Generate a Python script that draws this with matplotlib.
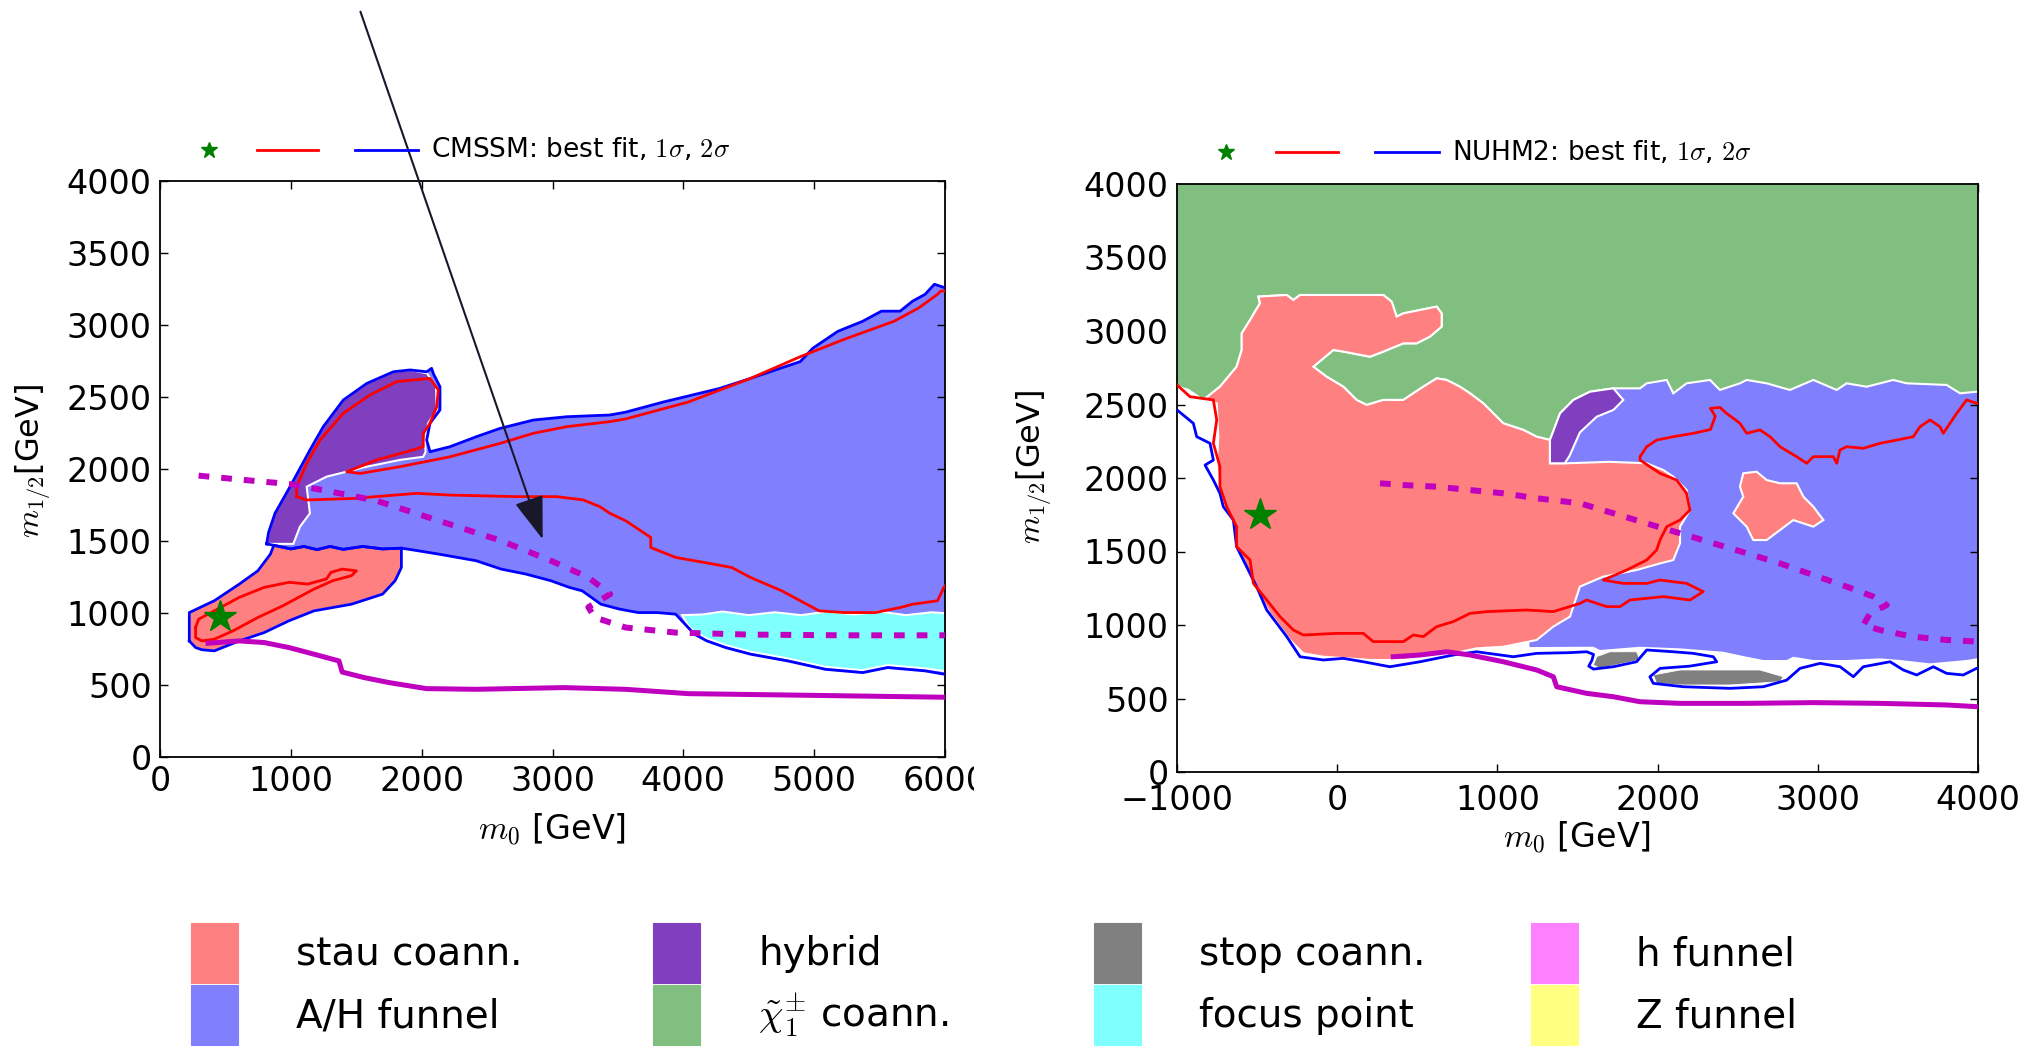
import matplotlib
matplotlib.use("Agg")
import matplotlib.pyplot as plt
from matplotlib.lines import Line2D
from matplotlib.patches import Patch
from matplotlib.transforms import Bbox, TransformedBbox

plt.rcParams['mathtext.fontset'] = 'cm'
plt.rcParams['font.family'] = 'DejaVu Sans'

# ---------------- CMSSM (left) : (m0, m12) in GeV ----------------
cm_band_2s = [(815, 1480), (830, 1560), (879, 1692), (994, 1877), (1146, 2132), (1248, 2294),
              (1401, 2479), (1580, 2594), (1783, 2675), (1911, 2688), (2038, 2675), (2076, 2699),
              (2089, 2663), (2140, 2571), (2140, 2410), (2064, 2318), (2038, 2201), (2064, 2120),
              (2217, 2155), (2420, 2225), (2599, 2282), (2854, 2340), (3109, 2363), (3439, 2375),
              (3560, 2395), (3846, 2465), (4275, 2559), (4513, 2629), (4894, 2746), (4990, 2839),
              (5181, 2956), (5371, 3026), (5514, 3096), (5657, 3096), (5753, 3166), (5848, 3213),
              (5919, 3283), (5995, 3260), (6050, 3260), (6050, 575), (5995, 575), (5848, 598),
              (5562, 621), (5371, 586), (5085, 609), (4799, 667), (4513, 714), (4323, 760),
              (4180, 806), (4085, 853), (4037, 899), (3941, 992), (3798, 1003), (3655, 1003),
              (3513, 1027), (3370, 1061), (3227, 1154), (3131, 1177), (2988, 1224), (2798, 1270),
              (2607, 1305), (2416, 1363), (2130, 1409), (1892, 1444), (1845, 1450), (1700, 1445),
              (1550, 1462), (1400, 1442), (1300, 1462), (1200, 1440), (1100, 1462), (1000, 1445),
              (870, 1470)]
cm_stau_2s = [(224, 806), (224, 1003), (415, 1085), (605, 1200), (748, 1293), (844, 1409),
              (870, 1470), (1000, 1445), (1100, 1462), (1200, 1440), (1300, 1462), (1400, 1442),
              (1550, 1462), (1700, 1445), (1845, 1450), (1845, 1316), (1797, 1224), (1701, 1131),
              (1463, 1061), (1177, 1015), (986, 946), (796, 864), (605, 806), (415, 737),
              (320, 745), (272, 760)]
cm_hybrid = [(815, 1480), (830, 1560), (879, 1692), (994, 1877), (1146, 2132), (1248, 2294),
             (1401, 2479), (1580, 2594), (1783, 2675), (1911, 2688), (2040, 2665), (2110, 2571),
             (2115, 2410), (2050, 2318), (2025, 2201), (2030, 2120), (2012, 2085), (1834, 2063),
             (1580, 2016), (1274, 1947), (1121, 1877), (1146, 1692), (1070, 1600), (1019, 1480)]
cm_focus = [(3990, 985), (4150, 990), (4300, 1010), (4500, 985), (4700, 1005), (4900, 985),
            (5100, 1010), (5300, 990), (5500, 1010), (5700, 985), (5900, 1005), (6050, 995),
            (6050, 590), (5848, 615), (5562, 638), (5371, 603), (5085, 626), (4799, 684),
            (4513, 731), (4323, 777), (4180, 823), (4085, 870), (4037, 916)]
cm_sig1_main = [(1045, 1808), (1121, 1785), (1468, 1795), (1962, 1831), (2217, 1819), (2726, 1808),
                (3032, 1808), (3236, 1785), (3363, 1738), (3439, 1692), (3560, 1640), (3751, 1525),
                (3751, 1455), (3941, 1386), (4227, 1340), (4370, 1316), (4513, 1247), (4752, 1154),
                (4894, 1085), (5038, 1015), (5228, 1003), (5467, 1003), (5657, 1038), (5753, 1061),
                (5943, 1085), (5991, 1177), (6050, 1250), (6050, 3236), (5967, 3236), (5943, 3213),
                (5800, 3119), (5610, 3026), (5228, 2900), (4894, 2780), (4513, 2629), (4037, 2465),
                (3560, 2348), (3439, 2329), (3109, 2294), (2854, 2248), (2599, 2178), (2217, 2085),
                (1834, 2016), (1529, 1969), (1427, 1981), (1656, 2063), (1886, 2120), (2012, 2155),
                (2012, 2247), (2064, 2318), (2115, 2433), (2127, 2549), (2064, 2629), (1809, 2607),
                (1605, 2514), (1401, 2387), (1223, 2201), (1121, 2039), (1045, 1877), (1045, 1808)]
cm_sig1_stau = [(272, 899), (295, 957), (415, 1015), (605, 1108), (796, 1178), (986, 1213),
                (1130, 1201), (1272, 1236), (1306, 1282), (1392, 1305), (1501, 1293), (1463, 1259),
                (1320, 1224), (1177, 1166), (1082, 1120), (939, 1050), (748, 969), (558, 876),
                (415, 818), (320, 806), (272, 830), (272, 899)]
cm_lhc = [(367, 790), (605, 806), (796, 795), (986, 760), (1177, 714), (1368, 667), (1392, 590),
          (1558, 552), (1749, 517), (2035, 475), (2416, 470), (3084, 482), (3560, 470),
          (4037, 440), (4990, 428), (6000, 415)]
cm_dotted = [(295, 1954), (701, 1919), (986, 1896), (1272, 1849), (1654, 1780), (2130, 1641),
             (2607, 1502), (2988, 1363), (3274, 1247), (3441, 1131), (3274, 1040), (3322, 969),
             (3560, 899), (3941, 864), (4513, 850), (5228, 845), (6000, 845)]
cm_best = (460, 970)

# ---------------- NUHM2 (right) ----------------
nu_green = [(-1050, 4050), (4050, 4050), (4050, 2590), (3991, 2587), (3888, 2576), (3804, 2633),
            (3555, 2644), (3471, 2667), (3305, 2621), (3180, 2644), (3118, 2599), (2972, 2667),
            (2826, 2599), (2681, 2644), (2556, 2667), (2514, 2644), (2389, 2599), (2327, 2667),
            (2181, 2644), (2098, 2576), (2057, 2667), (1932, 2644), (1890, 2610), (1724, 2610),
            (1578, 2587), (1474, 2531), (1391, 2440), (1328, 2259), (1245, 2281), (1162, 2327),
            (1037, 2372), (912, 2508), (829, 2576), (766, 2621), (683, 2667), (621, 2678),
            (537, 2621), (413, 2531), (288, 2531), (184, 2497), (121, 2531), (38, 2621),
            (-66, 2689), (-149, 2757), (-24, 2871), (38, 2860), (205, 2825), (288, 2860),
            (413, 2916), (496, 2916), (579, 2962), (652, 3030), (652, 3120), (621, 3166),
            (413, 3120), (371, 3098), (340, 3200), (288, 3245), (-232, 3245), (-274, 3211),
            (-315, 3245), (-492, 3234), (-482, 3188), (-544, 3075), (-596, 2984), (-596, 2871),
            (-628, 2757), (-732, 2621), (-836, 2531), (-930, 2600), (-1050, 2640)]
nu_ah = [(1200, 2700), (4050, 2700), (4050, 773), (3991, 773), (3929, 762), (3700, 739),
         (3513, 762), (3388, 773), (3180, 762), (2972, 762), (2847, 784), (2806, 762),
         (2660, 762), (2556, 784), (2410, 818), (2140, 841), (1890, 852), (1640, 830),
         (1599, 852), (1515, 852), (1245, 850), (1200, 850)]
nu_stau = [(-836, 2531), (-732, 2621), (-628, 2757), (-596, 2871), (-596, 2984), (-544, 3075),
           (-482, 3188), (-492, 3234), (-315, 3245), (-274, 3211), (-232, 3245), (288, 3245),
           (340, 3200), (371, 3098), (413, 3120), (621, 3166), (652, 3120), (652, 3030),
           (579, 2962), (496, 2916), (413, 2916), (288, 2860), (205, 2825), (38, 2860),
           (-24, 2871), (-149, 2757), (-66, 2689), (38, 2621), (121, 2531), (184, 2497),
           (288, 2531), (413, 2531), (537, 2621), (621, 2678), (683, 2667), (766, 2621),
           (829, 2576), (912, 2508), (1037, 2372), (1162, 2327), (1245, 2281), (1328, 2259),
           (1328, 2100), (1432, 2100), (1700, 2110), (1932, 2100), (2036, 2054), (2098, 2009),
           (2181, 1918), (2202, 1782), (2140, 1669), (2140, 1556), (2098, 1442), (2015, 1419),
           (1869, 1374), (1661, 1329), (1515, 1261), (1453, 1057), (1349, 989), (1245, 898),
           (1037, 852), (870, 841), (725, 807), (580, 784), (413, 762), (205, 762), (-86, 784),
           (-211, 807), (-295, 898), (-419, 1079), (-523, 1261), (-628, 1510), (-648, 1669),
           (-732, 1896), (-752, 2077), (-742, 2281), (-752, 2508)]
nu_hybrid = [(1328, 2100), (1328, 2259), (1391, 2440), (1474, 2531), (1578, 2587), (1724, 2610),
             (1786, 2531), (1724, 2463), (1620, 2417), (1515, 2310), (1450, 2150), (1420, 2100)]
nu_stau_island = [(2535, 2032), (2618, 2043), (2681, 1986), (2764, 1964), (2868, 1964),
                  (2910, 1873), (2972, 1805), (3035, 1714), (2972, 1669), (2847, 1714),
                  (2764, 1646), (2681, 1578), (2597, 1578), (2556, 1669), (2493, 1737),
                  (2473, 1760), (2535, 1873), (2514, 1941)]
nu_stop_a = [(1599, 728), (1620, 785), (1703, 818), (1869, 818), (1890, 762), (1786, 739),
             (1640, 705)]
nu_stop_b = [(1994, 603), (1973, 660), (2140, 694), (2306, 694), (2639, 694), (2785, 648),
             (2764, 614), (2452, 592), (2140, 592)]
nu_sig2 = [(-1000, 2463), (-898, 2372), (-877, 2281), (-794, 2236), (-773, 2122), (-825, 2088),
           (-773, 1986), (-732, 1896), (-711, 1805), (-648, 1714), (-628, 1533), (-544, 1351),
           (-503, 1261), (-440, 1102), (-315, 921), (-232, 784), (-86, 762), (38, 773),
           (163, 750), (329, 716), (517, 750), (725, 796), (870, 818), (1099, 784), (1245, 807),
           (1453, 812), (1557, 818), (1600, 800), (1590, 760), (1570, 720), (1600, 700),
           (1723, 716), (1869, 750), (1932, 830), (2098, 818), (2223, 807), (2348, 784),
           (2369, 750), (2200, 720), (2015, 705), (1952, 648), (1973, 603), (2161, 580),
           (2452, 569), (2660, 580), (2806, 625), (2889, 705), (3014, 739), (3139, 716),
           (3222, 648), (3284, 716), (3451, 750), (3534, 694), (3617, 660), (3721, 716),
           (3804, 671), (3908, 660), (3991, 705), (4050, 710)]
nu_sig1 = [(-1000, 2633), (-919, 2553), (-773, 2531), (-752, 2395), (-773, 2236), (-732, 2077),
           (-732, 1941), (-690, 1805), (-628, 1669), (-628, 1533), (-544, 1442), (-523, 1283),
           (-440, 1170), (-357, 1057), (-274, 966), (-211, 932), (-3, 943), (163, 943),
           (225, 887), (413, 887), (475, 932), (538, 921), (621, 989), (725, 1023), (829, 1079),
           (933, 1091), (1182, 1102), (1349, 1091), (1516, 1147), (1557, 1170), (1682, 1125),
           (1765, 1125), (1828, 1170), (2036, 1193), (2202, 1170), (2285, 1227), (2181, 1283),
           (2015, 1306), (1932, 1283), (1786, 1283), (1661, 1306), (1807, 1374), (1932, 1442),
           (1994, 1510), (2015, 1578), (2057, 1669), (2140, 1714), (2202, 1782), (2181, 1896),
           (2119, 1986), (2015, 2032), (1890, 2122), (1890, 2145), (1932, 2213), (1994, 2258),
           (2098, 2281), (2223, 2304), (2330, 2330), (2360, 2420), (2330, 2474), (2389, 2480),
           (2430, 2440), (2473, 2406), (2514, 2372), (2556, 2304), (2639, 2327), (2702, 2281),
           (2764, 2213), (2868, 2145), (2931, 2100), (2972, 2145), (3097, 2145), (3118, 2100),
           (3138, 2190), (3180, 2213), (3284, 2202), (3388, 2236), (3492, 2258), (3596, 2281),
           (3638, 2349), (3700, 2395), (3763, 2349), (3783, 2304), (3825, 2372), (3867, 2440),
           (3929, 2531), (3991, 2508), (4050, 2520)]
nu_lhc = [(350, 784), (517, 796), (683, 818), (829, 796), (1037, 750), (1245, 694), (1349, 648),
          (1370, 580), (1557, 535), (1724, 512), (1890, 478), (2140, 467), (2556, 467),
          (2972, 472), (3388, 467), (3804, 456), (4000, 444)]
nu_dotted = [(267, 1964), (413, 1952), (621, 1941), (829, 1918), (1037, 1896), (1245, 1862),
             (1515, 1828), (1724, 1760), (1932, 1691), (2140, 1624), (2348, 1556), (2556, 1488),
             (2764, 1419), (2972, 1340), (3180, 1261), (3347, 1193), (3430, 1136), (3326, 1079),
             (3284, 1000), (3388, 966), (3596, 920), (3804, 898), (4000, 887)]
nu_best = (-482, 1748)

# region colours (alpha-blended look)
c_stau = '#ff8080'
c_ah = '#8080ff'
c_hybrid = '#7f3fbf'
c_chargino = '#80bf80'
c_stop = '#808080'
c_focus = '#80ffff'
c_hfun = '#ff80ff'
c_zfun = '#ffff80'


def region(ax, pts, color, edge=1.5):
    xs, ys = zip(*pts)
    if edge:
        ax.fill(xs, ys, facecolor=color, edgecolor='white', lw=edge, zorder=2)
    else:
        ax.fill(xs, ys, facecolor=color, edgecolor='none', zorder=1)


def line(ax, pts, color, closed=False, **kw):
    if closed:
        pts = list(pts) + [pts[0]]
    xs, ys = zip(*pts)
    ax.plot(xs, ys, color=color, **kw)


W, H = 2035, 1054
fig = plt.figure(figsize=(W / 100, H / 100), dpi=100)
ax1 = fig.add_axes([160 / W, 1 - 757 / H, 785 / W, 576 / H])
ax2 = fig.add_axes([1177 / W, 1 - 772 / H, 801 / W, 588 / H])

# left panel
region(ax1, cm_band_2s, c_ah, edge=0)
region(ax1, cm_hybrid, c_hybrid)
region(ax1, cm_focus, c_focus)
region(ax1, cm_stau_2s, c_stau)
line(ax1, cm_band_2s, 'b', closed=True, lw=2, zorder=3)
line(ax1, cm_stau_2s, 'b', closed=True, lw=2, zorder=3)
line(ax1, cm_sig1_main, 'r', lw=2, zorder=3)
line(ax1, cm_sig1_stau, 'r', lw=2, zorder=3)
line(ax1, cm_lhc, 'm', lw=3.6, zorder=4)
line(ax1, cm_dotted, 'm', lw=4.3, ls=(0, (1.8, 2.0)), zorder=4)
ax1.plot(*cm_best, marker='*', color='g', ms=24, mec='g', zorder=5)
ax1.set_xlim(0, 6000)
ax1.set_ylim(0, 4000)
ax1.set_xticks(range(0, 6001, 1000))
ax1.set_yticks(range(0, 4001, 500))

# right panel
region(ax2, nu_ah, c_ah, edge=0)
region(ax2, nu_green, c_chargino)
region(ax2, nu_stau, c_stau)
region(ax2, nu_hybrid, c_hybrid)
region(ax2, nu_stau_island, c_stau)
region(ax2, nu_stop_a, c_stop, edge=0.6)
region(ax2, nu_stop_b, c_stop, edge=0.6)
line(ax2, nu_sig2, 'b', lw=2, zorder=3)
line(ax2, nu_sig1, 'r', lw=2, zorder=3)
line(ax2, nu_lhc, 'm', lw=3.6, zorder=4)
line(ax2, nu_dotted, 'm', lw=4.3, ls=(0, (1.8, 2.0)), zorder=4)
ax2.plot(*nu_best, marker='*', color='g', ms=24, mec='g', zorder=5)
ax2.set_xlim(-1000, 4000)
ax2.set_ylim(0, 4000)
ax2.set_xticks(range(-1000, 4001, 1000))
ax2.set_yticks(range(0, 4001, 500))

for ax in (ax1, ax2):
    ax.tick_params(direction='in', top=True, right=True, length=6, width=1,
                   labelsize=24, pad=6)
    for s in ax.spines.values():
        s.set_linewidth(1.3)
    ax.set_xlabel(r'$m_0$ [GeV]', fontsize=24)
    ax.set_ylabel(r'$m_{1/2}$[GeV]', fontsize=23)
ax2.tick_params(axis='x', pad=9)
ax1.xaxis.set_label_coords(0.499, -0.094)
ax1.yaxis.set_label_coords(-0.136, 0.514)
ax2.xaxis.set_label_coords(0.499, -0.080)
ax2.yaxis.set_label_coords(-0.154, 0.519)

# the "6000" label is cut at the panel border in the original
clip = TransformedBbox(Bbox([[0, 0], [974 / W, 1]]), fig.transFigure)
lab = ax1.xaxis.get_major_ticks()[-1].label1
lab.set_clip_on(True)
lab.set_clip_box(clip)

# arrow pointing into the A/H funnel band
ax1.annotate('', xy=(2925, 1512), xytext=(1532, 5176), annotation_clip=False,
             arrowprops=dict(arrowstyle='-|>,head_length=1.35,head_width=0.46',
                             mutation_scale=20, color='#18182a', lw=1.5,
                             shrinkA=0, shrinkB=0), zorder=6)

# top legends: star, 1 sigma, 2 sigma
for (xs, xr, xb, xt, yy, name) in [(209, (257, 318), (355, 418), 431, 150, 'CMSSM'),
                                   (1226, (1276, 1338), (1375, 1439), 1452, 152, 'NUHM2')]:
    y = 1 - yy / H
    fig.add_artist(Line2D([xs / W], [y], marker='*', color='g', ms=12, transform=fig.transFigure))
    fig.add_artist(Line2D([xr[0] / W, xr[1] / W], [y, y], color='r', lw=2, transform=fig.transFigure))
    fig.add_artist(Line2D([xb[0] / W, xb[1] / W], [y, y], color='b', lw=2, transform=fig.transFigure))
    fig.text(xt / W, y, name + r': best fit, $1\sigma$, $2\sigma$', fontsize=19, va='center')

# bottom legend, four columns
cols = [([c_stau, c_ah], ['stau coann.', 'A/H funnel'], 191),
        ([c_hybrid, c_chargino], ['hybrid', r'$\tilde{\chi}_1^{\pm}$ coann.'], 653),
        ([c_stop, c_focus], ['stop coann.', 'focus point'], 1094),
        ([c_hfun, c_zfun], ['h funnel', 'Z funnel'], 1531)]
for colors, labels, x0 in cols:
    handles = [Patch(facecolor=c, edgecolor=c, lw=0.8) for c in colors]
    fig.legend(handles, labels, loc='upper left', bbox_to_anchor=(x0 / W, 1 - 923 / H),
               frameon=False, fontsize=28, handlelength=1.2, handleheight=2.0,
               handletextpad=1.5, labelspacing=0.04, borderpad=0, borderaxespad=0)

fig.savefig('out.png', dpi=100)
